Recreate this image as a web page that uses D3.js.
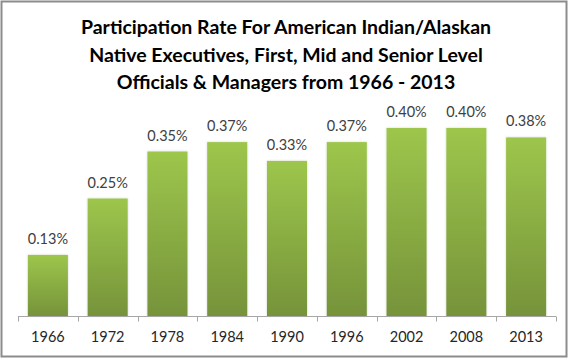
<!DOCTYPE html>
<html><head><meta charset="utf-8">
<script src="https://cdn.jsdelivr.net/npm/d3@7"></script>
<style>body{margin:0;background:#fff}svg{display:block}</style>
</head><body>
<script>
const categories = ["1966","1972","1978","1984","1990","1996","2002","2008","2013"];
const values = [0.13,0.25,0.35,0.37,0.33,0.37,0.40,0.40,0.38];
const valueLabels = ["0.13%","0.25%","0.35%","0.37%","0.33%","0.37%","0.40%","0.40%","0.38%"];
const titleLines = ["Participation Rate For American Indian/Alaskan","Native Executives, First, Mid and Senior Level","Officials & Managers from 1966 - 2013"];

const W=570,H=360;
const font="Lato, 'Open Sans', sans-serif";
const svg=d3.select("body").append("svg").attr("width",W).attr("height",H);
const defs=svg.append("defs");
const g=defs.append("linearGradient").attr("id","gr").attr("x1",0).attr("y1",0).attr("x2",0).attr("y2",1);
g.append("stop").attr("offset","0%").attr("stop-color","#9dc64c");
g.append("stop").attr("offset","100%").attr("stop-color","#76933a");
const f=defs.append("filter").attr("id","sh").attr("x","-20%").attr("y","-20%").attr("width","140%").attr("height","140%");
f.append("feDropShadow").attr("dx",0).attr("dy",0).attr("stdDeviation",1.2).attr("flood-color","#000").attr("flood-opacity",0.18);

svg.append("rect").attr("x",1.5).attr("y",1.5).attr("width",565).attr("height",355)
  .attr("fill","#fff").attr("stroke","#8c8c8c").attr("stroke-width",2);

svg.append("g").selectAll("text").data(titleLines).join("text")
  .attr("x",286).attr("y",(d,i)=>34+i*27.5).attr("text-anchor","middle")
  .attr("font-family",font).attr("font-weight","bold").attr("font-size",19.5).attr("fill","#000")
  .text(d=>d);

const x=d3.scaleBand().domain(categories).range([18,556]).paddingInner(0.33).paddingOuter(0.165);
const y=d3.scaleLinear().domain([0,0.45]).range([316,104.5]);

svg.append("g").selectAll("rect").data(values).join("rect")
  .attr("x",(d,i)=>x(categories[i])).attr("width",x.bandwidth())
  .attr("y",d=>y(d)).attr("height",d=>y(0)-y(d))
  .attr("fill","url(#gr)").attr("filter","url(#sh)");

svg.append("g").selectAll("text").data(values).join("text")
  .attr("x",(d,i)=>x(categories[i])+x.bandwidth()/2).attr("y",d=>y(d)-11)
  .attr("text-anchor","middle").attr("font-family",font).attr("font-size",14.5).attr("fill","#404040")
  .text((d,i)=>valueLabels[i]);

const xa=d3.scaleBand().domain(categories).range([18,556]);
const ax=svg.append("g").attr("transform","translate(0,316.5)");
ax.append("line").attr("x1",18).attr("x2",556).attr("stroke","#a6a6a6");
const ticks=d3.range(categories.length+1).map(i=>18+i*xa.step());
ax.selectAll("line.t").data(ticks).join("line").attr("class","t")
  .attr("x1",d=>Math.round(d)+0.5).attr("x2",d=>Math.round(d)+0.5).attr("y1",0).attr("y2",5).attr("stroke","#a6a6a6");
ax.selectAll("text").data(categories).join("text")
  .attr("x",d=>xa(d)+xa.bandwidth()/2).attr("y",25)
  .attr("text-anchor","middle").attr("font-family",font).attr("font-size",14.5).attr("fill","#262626")
  .text(d=>d);
</script>
</body></html>
